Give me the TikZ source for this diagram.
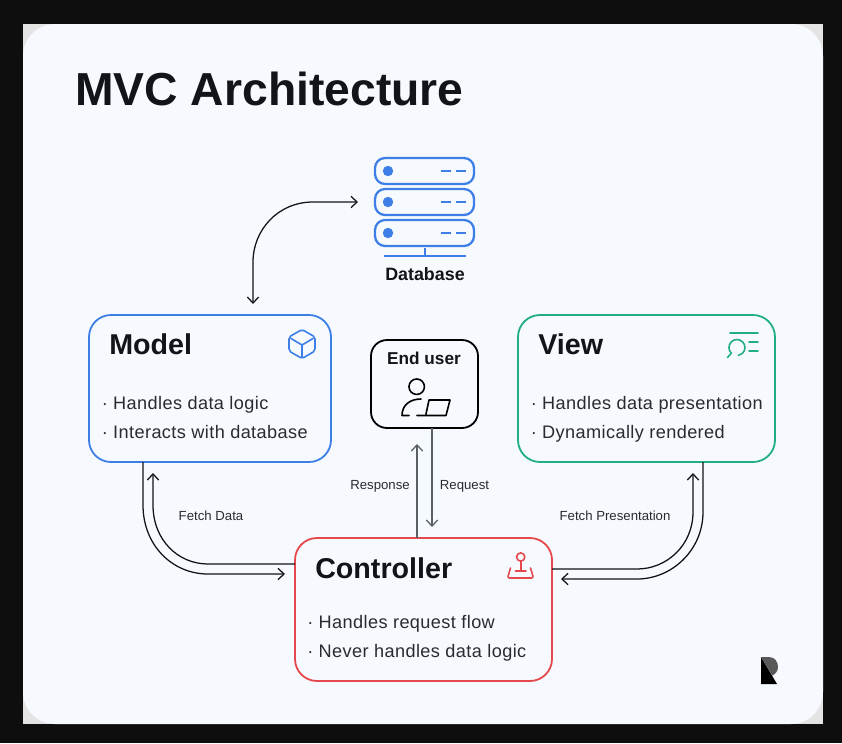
\documentclass[tikz,border=0pt]{standalone}
\usepackage{fontspec}
\setmainfont{Liberation Sans}
\usetikzlibrary{arrows.meta,calc}
\definecolor{frame}{HTML}{0E0E0E}
\definecolor{card}{HTML}{F6F9FD}
\definecolor{corner}{HTML}{E4E4E4}
\definecolor{ink}{HTML}{111418}
\definecolor{mblue}{HTML}{3D7FE6}
\definecolor{vgreen}{HTML}{22AE85}
\definecolor{cred}{HTML}{E5484D}
\definecolor{greyline}{HTML}{5A5F66}
\newcommand{\spaced}{\addfontfeature{LetterSpace=2.2}}
\tikzset{
  box/.style={draw,rounded corners=16.5pt,line width=1.35pt,inner sep=0pt,outer sep=0pt,fill=card},
  heading/.style={font=\fontsize{21.5}{24}\selectfont\bfseries,text=ink,anchor=base west,inner sep=0pt},
  bullet/.style={font=\fontsize{13.6}{15}\selectfont\spaced,text=ink!90,anchor=base west,inner sep=0pt},
  small/.style={font=\fontsize{9.9}{10}\selectfont,text=ink!90,anchor=base,inner sep=0pt},
  conn/.style={draw=ink,line width=0.95pt},
  tip/.style={-{Straight Barb[length=4.6pt,width=8.5pt,line width=0.95pt]}},
  tips/.style={{Straight Barb[length=4.6pt,width=8.5pt,line width=0.95pt]}-{Straight Barb[length=4.6pt,width=8.5pt,line width=0.95pt]}},
  ico/.style={line width=1.2pt,line cap=round,line join=round},
}
\begin{document}
\begin{tikzpicture}[x=0.75pt,y=-0.75pt]
\useasboundingbox (0,0) rectangle (842,743);
\fill[frame] (0,0) rectangle (842,743);
\fill[corner] (23,24) rectangle (823,724);
\fill[card] (23,24) [rounded corners=24pt] rectangle (823,724);
\node[font=\fontsize{34.7}{40}\selectfont\bfseries,text=ink,anchor=base west,inner sep=0pt] (title) at (75,105) {MVC Architecture};

% database icon
\foreach \y/\n in {171/a,202/b,233/c}{
  \draw[mblue,line width=1.7pt,rounded corners=7.5pt] (375,\y-13) rectangle (474,\y+13);
  \fill[mblue] (388,\y) circle (3.9pt);
  \draw[mblue,line width=1.6pt] (441,\y) -- (451,\y) (456,\y) -- (466,\y);
}
\draw[mblue,line width=1.5pt] (425,248) -- (425,255) (384,255.5) -- (466,255.5);
\node[font=\fontsize{13.4}{14}\selectfont\bfseries,text=ink,anchor=base,inner sep=0pt] (dbl) at (425,280) {Database};

% boxes
\node[box,draw=mblue,minimum width=181.5pt,minimum height=110.25pt] (model) at (210,388.5) {};
\node[box,draw=vgreen,minimum width=192.75pt,minimum height=110.25pt] (view) at (646.5,388.5) {};
\node[box,draw=cred,minimum width=192.75pt,minimum height=107.25pt] (ctrl) at (423.5,609.5) {};
\node[box,draw=black,rounded corners=12pt,minimum width=80.25pt,minimum height=66pt] (user) at (424.5,384) {};

\node[heading] (mh) at (109,354) {Model};
\node[heading] (vh) at (538,354) {View};
\node[heading] (ch) at (315,578) {Controller};
\node[font=\fontsize{12.9}{14}\selectfont\bfseries,text=ink,anchor=base,inner sep=0pt] (uh) at (424,364) {End user};

\node[bullet] (m1) at (101.5,409) {· Handles data logic};
\node[bullet] (m2) at (101.5,438) {· Interacts with database};
\node[bullet] (v1) at (530.5,409) {· Handles data presentation};
\node[bullet] (v2) at (530.5,438) {· Dynamically rendered};
\node[bullet] (c1) at (307,628) {· Handles request flow};
\node[bullet] (c2) at (307,657) {· Never handles data logic};

% small labels
\node[small] (l1) at (211,520) {Fetch Data};
\node[small] (l2) at (615,520) {Fetch Presentation};
\node[small] (l3) at (380,489) {Response};
\node[small] (l4) at (464.5,489) {Request};

% connector helpers
\coordinate (xo) at (143,0);
\coordinate (yi) at (0,564);
\coordinate (xv) at (703,0);
\coordinate (yw) at (0,569);
\coordinate (xr) at (417,0);
\coordinate (xq) at (432,0);

% database <-> model
\draw[conn,tips] (358,202) -- (313,202) .. controls (278,202) and (253,230) .. (253,262) -- (253,304);

% model -> controller
\draw[conn,tip] (model.south -| xo) -- (143,505) .. controls (143,545) and (172,574) .. (208,574) -- (285,574);
\draw[conn,tip] (ctrl.west |- yi) -- (208,564) .. controls (178,564) and (153,540) .. (153,505) -- (153,473);

% view -> controller
\draw[conn,tip] (view.south -| xv) -- (703,512) .. controls (703,550) and (672,579) .. (637,579) -- (561,579);
\draw[conn,tip] (ctrl.east |- yw) -- (637,569) .. controls (667,569) and (693,545) .. (693,512) -- (693,473);

% user <-> controller
\draw[conn,draw=greyline,line width=1.15pt,tip] (ctrl.north -| xr) -- (417,444);
\draw[conn,draw=greyline,line width=1.15pt,tip] (user.south -| xq) -- (432,527);

% user icon
\draw[black,ico] (416.7,386.7) circle (5.8pt);
\draw[black,ico] (402,415.5) -- (409,415.5)
  (402,415.5) .. controls (402,405) and (410,399) .. (421,399)
  (417,415.5) -- (446,415.5) -- (450,400) -- (429,400) -- (426,414);

% cube icon
\draw[mblue,ico,rounded corners=1.5pt] (302,329.5) -- (315,337) -- (315,351) -- (302,358.5) -- (289,351) -- (289,337) -- cycle;
\draw[mblue,ico] (291,338.5) -- (302,345) -- (313,338.5) (302,345) -- (302,357);

% view icon
\draw[vgreen,ico] (730,333) -- (758,333);
\draw[vgreen,ico] (731.3,353.2) arc[start angle=135,end angle=440,radius=8];
\draw[vgreen,ico] (731.3,353.2) -- (727.5,357.5);
\draw[vgreen,ico] (749,342) -- (758,342) (749,351) -- (758,351);

% controller icon
\draw[cred,ico] (520.7,557) circle (3.1pt);
\draw[cred,ico] (520.7,561) -- (520.7,571) (515.5,571) -- (526,571);
\draw[cred,ico,rounded corners=1.5pt] (510.5,568) -- (507.5,578) -- (533.5,578) -- (530.5,568);

% logo
\fill[black] (761,657) -- (761,684) -- (777,684) -- cycle;
\fill[black!65] (761,657) -- (769,657) .. controls (775,657) and (778,662) .. (778,667) .. controls (778,671) and (775,675) .. (772,675.5) -- cycle;
\end{tikzpicture}
\end{document}
